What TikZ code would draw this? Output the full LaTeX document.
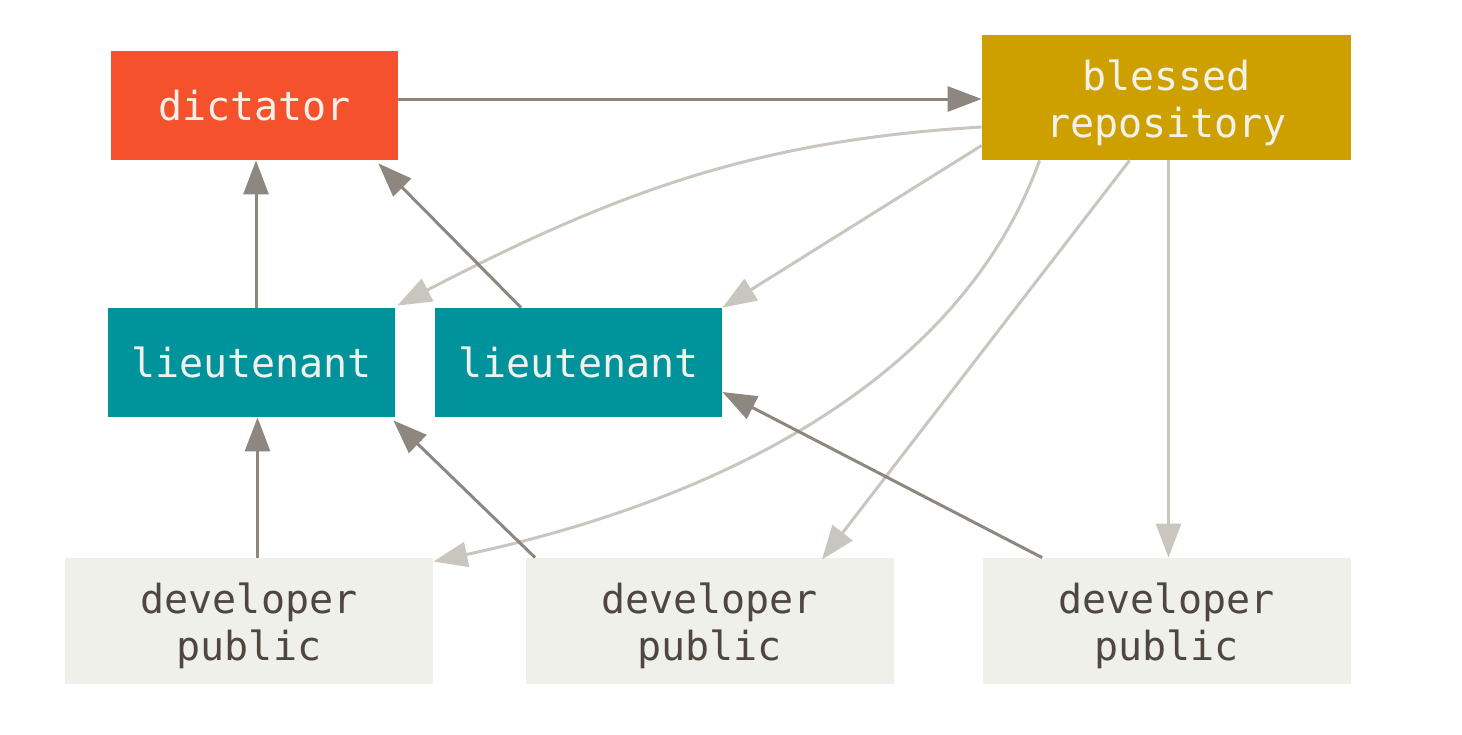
\documentclass[tikz,border=0pt]{standalone}
\usepackage{fontspec}
\setmonofont{DejaVu Sans Mono}
\usetikzlibrary{arrows.meta,calc}
\definecolor{dictc}{HTML}{F4512C}
\definecolor{blessc}{HTML}{CDA000}
\definecolor{ltc}{HTML}{00939B}
\definecolor{devc}{HTML}{F0F0EA}
\definecolor{lighttxt}{HTML}{F1F1EC}
\definecolor{darktxt}{HTML}{4F4640}
\definecolor{darkarr}{HTML}{8E877F}
\definecolor{lightarr}{HTML}{C9C6C0}
\newcommand{\twolines}[2]{\raisebox{-2.5pt}[\height][\depth]{\parbox{170pt}{\centering #1\\#2}}}
\tikzset{
  box/.style={rectangle, inner sep=0pt, align=center, font=\ttfamily\fontsize{20}{23.5}\selectfont},
  dictbox/.style={box, fill=dictc, text=lighttxt, minimum width=143.5pt, minimum height=54.5pt},
  blessbox/.style={box, fill=blessc, text=lighttxt, minimum width=184.5pt, minimum height=62.5pt},
  ltbox/.style={box, fill=ltc, text=lighttxt, minimum width=143.5pt, minimum height=54.5pt},
  devbox/.style={box, fill=devc, text=darktxt, minimum width=184pt, minimum height=63pt},
  darka/.style={draw=darkarr, line width=1.5pt, -{Triangle[length=17pt,width=12.5pt]}, fill=none},
  lighta/.style={draw=lightarr, line width=1.5pt, -{Triangle[length=17pt,width=12.5pt]}, fill=none},
}
\begin{document}
\begin{tikzpicture}[x=0.5pt,y=-0.5pt]
\useasboundingbox (0,0) rectangle (1462,734);
\node[dictbox] (dict) at (254.5,105.5) {dictator};
\node[blessbox] (bless) at (1166.5,97.5) {\twolines{blessed}{repository}};
\node[ltbox] (lt1) at (251.5,362.5) {lieutenant};
\node[ltbox] (lt2) at (578.5,362.5) {lieutenant};
\node[devbox] (dev1) at (249,621) {\twolines{developer}{public}};
\node[devbox] (dev2) at (709.5,621) {\twolines{developer}{public}};
\node[devbox] (dev3) at (1166.5,621) {\twolines{developer}{public}};
% light arrows
\draw[lighta] ([yshift=-14.75pt]bless.west) .. controls (760,140) and (620,190) .. ([xshift=1pt,yshift=1pt]lt1.north east);
\draw[lighta] ([yshift=-24pt]bless.west) -- (lt2.north east);
\draw[lighta] ([xshift=29pt]bless.south west) .. controls (960,380) and (720,500) .. ([yshift=-2pt]dev1.north east);
\draw[lighta] ([xshift=74pt]bless.south west) -- ([xshift=-36pt,yshift=-1pt]dev2.north east);
\draw[lighta] ([xshift=1pt]bless.south) -- ([xshift=1pt]dev3.north);
% dark arrows
\draw[darka] ([yshift=3.25pt]dict.east) -- ([yshift=3.25pt]dict.east -| bless.west);
\draw[darka] ([xshift=2.25pt]lt1.north) -- ([xshift=2.25pt]lt1.north |- dict.south);
\draw[darka] ([xshift=-28.75pt]lt2.north) -- ([xshift=-10pt,yshift=-1.5pt]dict.south east);
\draw[darka] ([xshift=3pt]lt1.south |- dev1.north) -- ([xshift=3pt]lt1.south);
\draw[darka] ([xshift=5pt]dev2.north west) -- ([xshift=-1pt,yshift=-1.5pt]lt1.south east);
\draw[darka] ([xshift=30pt]dev3.north west) -- ([yshift=-14.75pt]lt2.east);
\end{tikzpicture}
\end{document}
